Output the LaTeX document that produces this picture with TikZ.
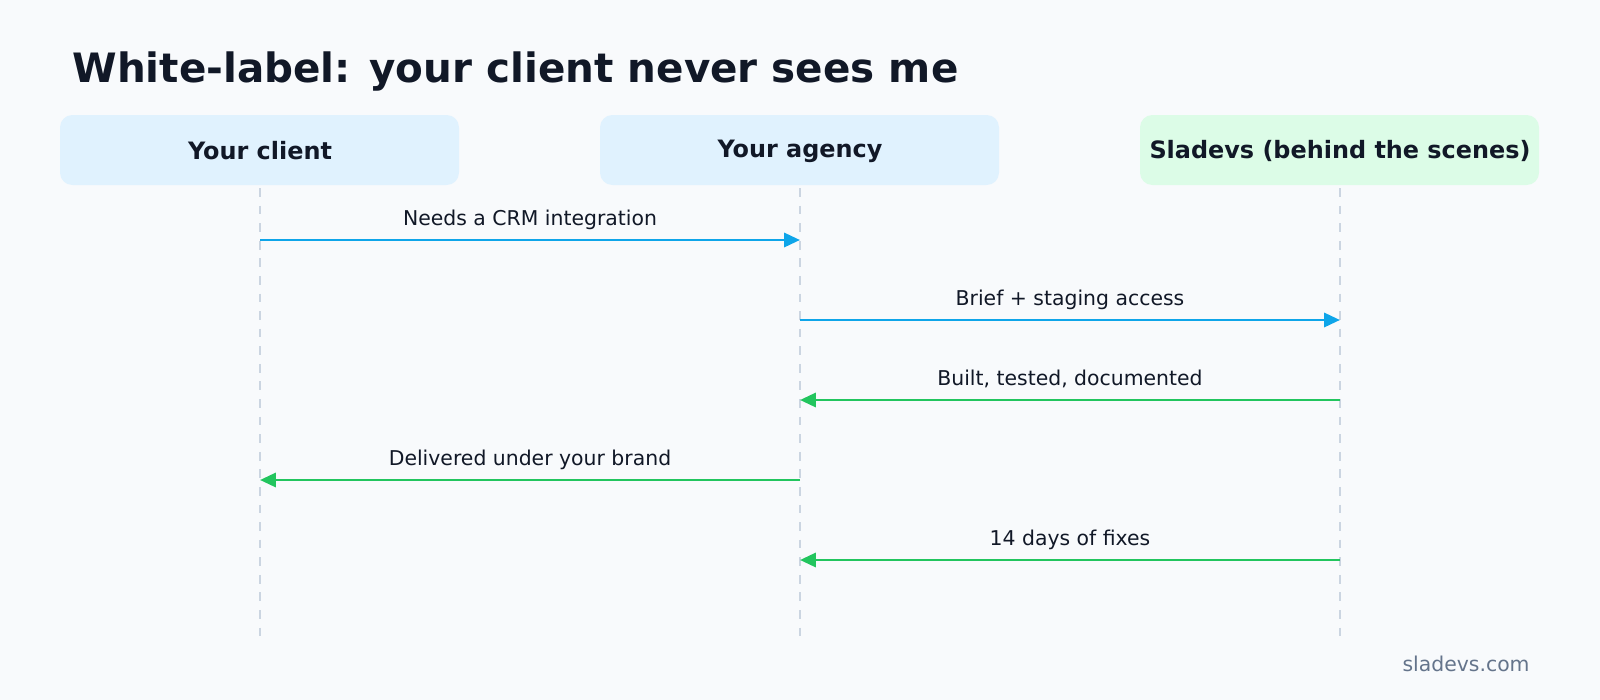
\documentclass[tikz,border=0pt]{standalone}
\usepackage{fontspec}
\setmainfont{DejaVu Sans}
\usetikzlibrary{arrows.meta}
\definecolor{bg}{HTML}{F8FAFC}
\definecolor{boxb}{HTML}{E0F2FE}
\definecolor{boxg}{HTML}{DCFCE7}
\definecolor{ink}{HTML}{111827}
\definecolor{lblue}{HTML}{0EA5E9}
\definecolor{lgreen}{HTML}{22C55E}
\definecolor{life}{HTML}{CBD5E1}
\definecolor{foot}{HTML}{64748B}
\begin{document}
\begin{tikzpicture}[x=0.01cm,y=-0.01cm,
  actor/.style={draw=none,rounded corners=3.5pt,minimum width=399\pgflinewidth,text=ink,font=\fontsize{6.8}{8}\selectfont\bfseries},
  lifeline/.style={life,line width=0.7pt,dash pattern=on 2.5pt off 2.5pt},
  msg/.style={line width=0.8pt,-{Triangle[length=4.5pt,width=4pt]}},
  lbl/.style={text=ink,font=\fontsize{5.8}{7}\selectfont,anchor=base}]
\fill[bg] (0,0) rectangle (1600,700);
\useasboundingbox (0,0) rectangle (1600,700);
\node[anchor=base west,text=ink,font=\fontsize{11.5}{13}\selectfont\bfseries] (title) at (60,82) {White-label: your client never sees me};
\fill[boxb,rounded corners=3.5pt] (60,115) rectangle (459,185);
\fill[boxb,rounded corners=3.5pt] (600,115) rectangle (999,185);
\fill[boxg,rounded corners=3.5pt] (1140,115) rectangle (1539,185);
\node[text=ink,font=\fontsize{6.8}{8}\selectfont\bfseries] (c) at (260,151) {Your client};
\node[text=ink,font=\fontsize{6.8}{8}\selectfont\bfseries] (a) at (800,151) {Your agency};
\node[text=ink,font=\fontsize{6.8}{8}\selectfont\bfseries] (s) at (1340,151) {Sladevs (behind the scenes)};
\coordinate (ct) at (260,188); \coordinate (cb) at (260,640);
\coordinate (at) at (800,188); \coordinate (ab) at (800,640);
\coordinate (st) at (1340,188); \coordinate (sb) at (1340,640);
\draw[lifeline] (ct)--(cb); \draw[lifeline] (at)--(ab); \draw[lifeline] (st)--(sb);
\coordinate (c1) at (260,240); \coordinate (a1) at (800,240);
\coordinate (a2) at (800,320); \coordinate (s2) at (1340,320);
\coordinate (s3) at (1340,400); \coordinate (a3) at (800,400);
\coordinate (a4) at (800,480); \coordinate (c4) at (260,480);
\coordinate (s5) at (1340,560); \coordinate (a5) at (800,560);
\draw[msg,lblue] (c1)--(a1);
\draw[msg,lblue] (a2)--(s2);
\draw[msg,lgreen] (s3)--(a3);
\draw[msg,lgreen] (a4)--(c4);
\draw[msg,lgreen] (s5)--(a5);
\node[lbl] (l1) at (530,225) {Needs a CRM integration};
\node[lbl] (l2) at (1070,305) {Brief + staging access};
\node[lbl] (l3) at (1070,385) {Built, tested, documented};
\node[lbl] (l4) at (530,465) {Delivered under your brand};
\node[lbl] (l5) at (1070,545) {14 days of fixes};
\node[anchor=base east,text=foot,font=\fontsize{5.8}{7}\selectfont] (f) at (1542,671) {sladevs.com};
\end{tikzpicture}
\end{document}
